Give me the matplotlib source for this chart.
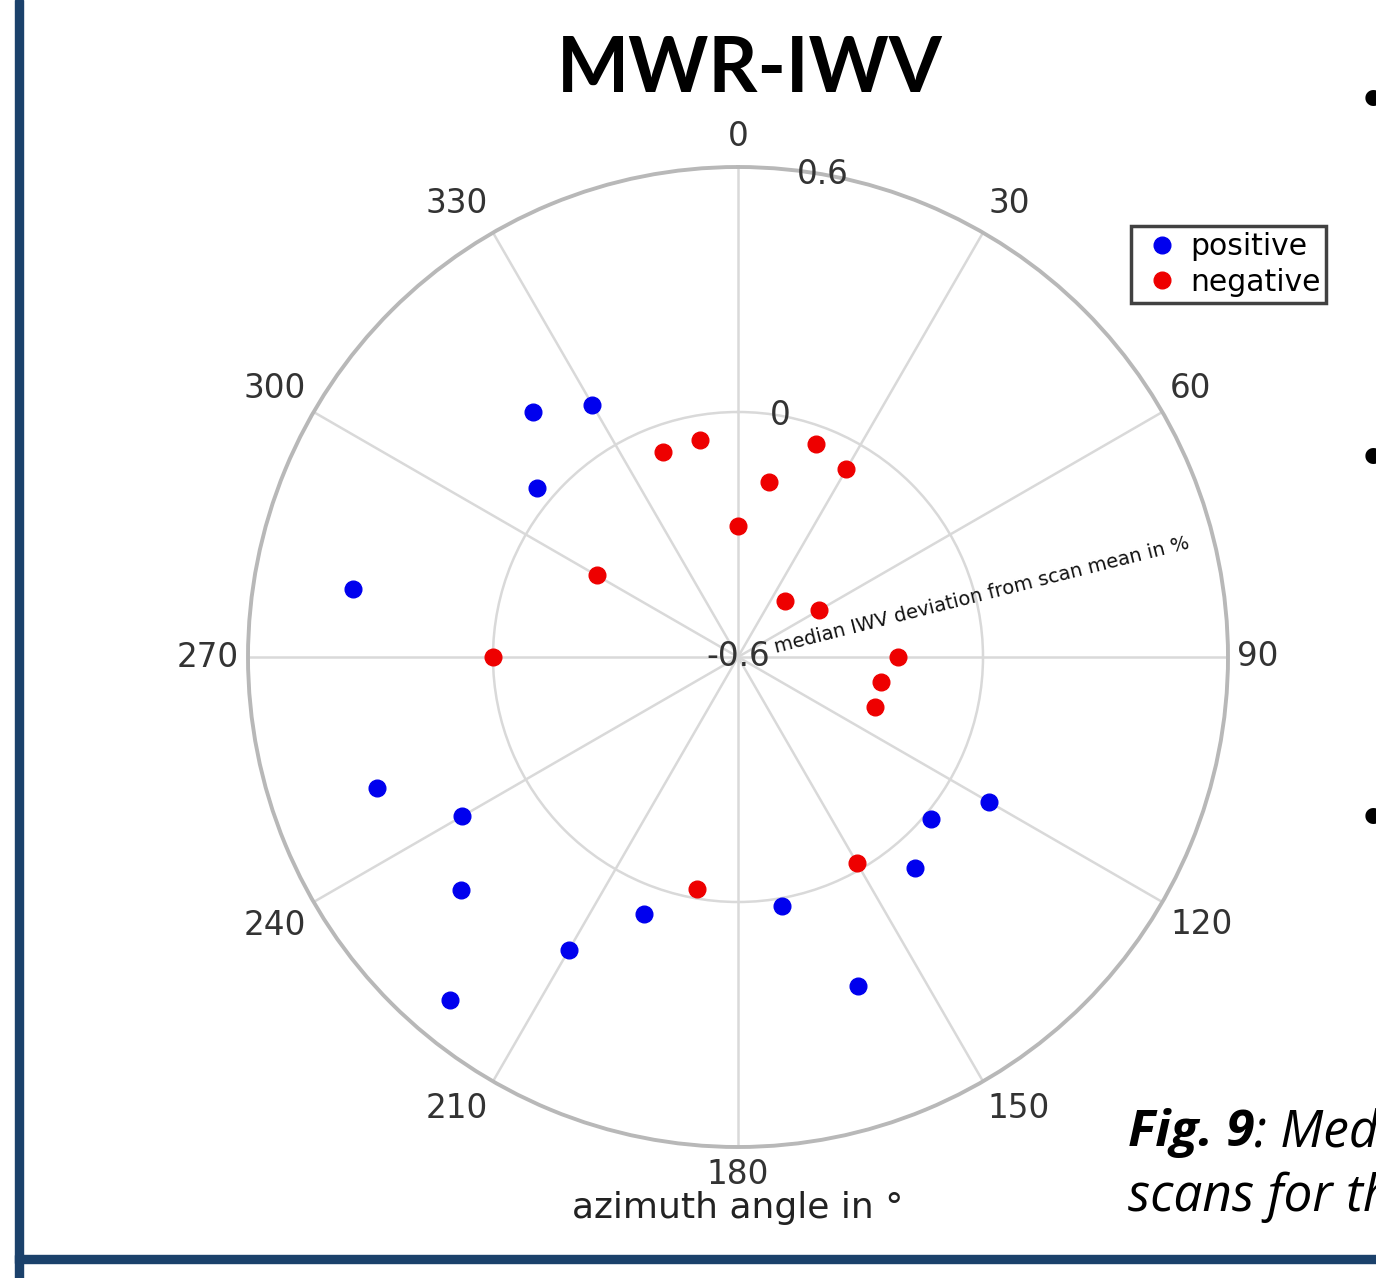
import numpy as np
import matplotlib
matplotlib.use("Agg")
import matplotlib.pyplot as plt
from matplotlib.patches import Rectangle

# median IWV deviation per azimuth bin (deg, %)
pos_az = [120, 130, 140, 160, 170, 200, 210, 220, 230, 240, 250, 280, 310, 320, 330]
pos_dev = [0.111, 0.017, 0.074, 0.257, 0.019, 0.070, 0.228, 0.497, 0.286, 0.181,
           0.340, 0.357, 0.043, 0.182, 0.113]

neg_az = [0, 10, 20, 30, 40, 60, 90, 100, 110, 150, 190, 270, 300, 340, 350]
neg_dev = [-0.279, -0.165, -0.045, -0.069, -0.420, -0.370, -0.208, -0.244, -0.242,
           -0.017, -0.023, 0.000, -0.200, -0.065, -0.060]

r_ticks = [-0.6, 0, 0.6]
r_labels = ["-0.6", "0", "0.6"]
theta_ticks = list(range(0, 360, 30))

W, H = 1376, 1278
fig = plt.figure(figsize=(W / 100, H / 100), dpi=100)

# poster frame bits
fig.patches.append(Rectangle((15 / W, 0), 8 / W, 1, transform=fig.transFigure,
                             color="#1b416b", zorder=0))
fig.patches.append(Rectangle((15 / W, 1 - 1263 / H), 1 - 15 / W, 8 / H,
                             transform=fig.transFigure, color="#1b416b", zorder=0))

cx, cy, R = 738, 657, 490
ax = fig.add_axes([(cx - R) / W, (H - cy - R) / H, 2 * R / W, 2 * R / H],
                  projection="polar")
ax.set_theta_zero_location("N")
ax.set_theta_direction(-1)
ax.set_ylim(-0.6, 0.6)
ax.set_yticks(r_ticks)
ax.set_yticklabels([])
ax.set_xticks(np.deg2rad(theta_ticks))
ax.set_xticklabels([])
ax.grid(True, color="#d9d9d9", linewidth=1.8)
ax.spines["polar"].set_color("#b8b8b8")
ax.spines["polar"].set_linewidth(2.8)

# azimuth labels: pixel offset of each label from its spoke end
theta_off = [(0, 30), (26, 29), (28, 24), (30, 0), (39, -23), (36, -27),
             (0, -28), (-36, -27), (-39, -23), (-40, 0), (-39, 24), (-36, 29)]
for t, off in zip(theta_ticks, theta_off):
    ax.annotate(str(t), xy=(np.deg2rad(t), 0.6), xytext=off,
                textcoords="offset pixels", fontsize=23.5, color="#333333",
                ha="center", va="center", annotation_clip=False)

# radial tick labels centred on the 10 deg spoke
for r, lab in zip(r_ticks, r_labels):
    ax.text(np.deg2rad(10), r, lab, fontsize=23.5, color="#333333",
            ha="center", va="center", zorder=6)

ax.plot(np.deg2rad(pos_az), pos_dev, "o", color="#0000ee", markersize=12,
        linestyle="none", label="positive", zorder=5)
ax.plot(np.deg2rad(neg_az), neg_dev, "o", color="#ee0000", markersize=12,
        linestyle="none", label="negative", zorder=5)

fig.text(776 / W, 1 - 653 / H, "median IWV deviation from scan mean in %",
         fontsize=14.0, rotation=14.2, rotation_mode="anchor", ha="left",
         va="baseline", color="#111111")
fig.text(cx / W, 1 - 1208 / H, "azimuth angle in \u00b0", fontsize=26,
         ha="center", va="center", color="#222222")

leg = fig.legend(loc="upper left", bbox_to_anchor=(1131 / W, 1 - 226 / H),
                 fontsize=21.5, frameon=True, fancybox=False, handletextpad=0.09,
                 borderpad=0.2, labelspacing=0.22, handlelength=1.68,
                 borderaxespad=0)
leg.get_frame().set_edgecolor("#111111")
leg.get_frame().set_linewidth(2.5)

fig.text(750 / W, 1 - 70 / H, "MWR-IWV", fontsize=55, fontweight="bold",
         family="Lato", ha="center", va="center")

# figure caption, running off the right edge
cap1 = fig.text(1128 / W, 1 - 1133 / H, "Fig. 9", fontsize=37, fontweight="bold",
                style="italic", family="Open Sans", ha="left", va="center")
renderer = fig.canvas.get_renderer()
x_end = cap1.get_window_extent(renderer).x1 / W
fig.text(x_end, 1 - 1133 / H, ": Median", fontsize=37, style="italic",
         family="Open Sans", ha="left", va="center")
fig.text(1128 / W, 1 - 1197 / H, "scans for the", fontsize=37, style="italic",
         family="Open Sans", ha="left", va="center")

for y in [97, 455, 815]:
    fig.text(1357 / W, 1 - (y + 6.5) / H, "\u2022", fontsize=40, ha="left",
             va="center")

fig.savefig("out.png", dpi=100, facecolor="white")
